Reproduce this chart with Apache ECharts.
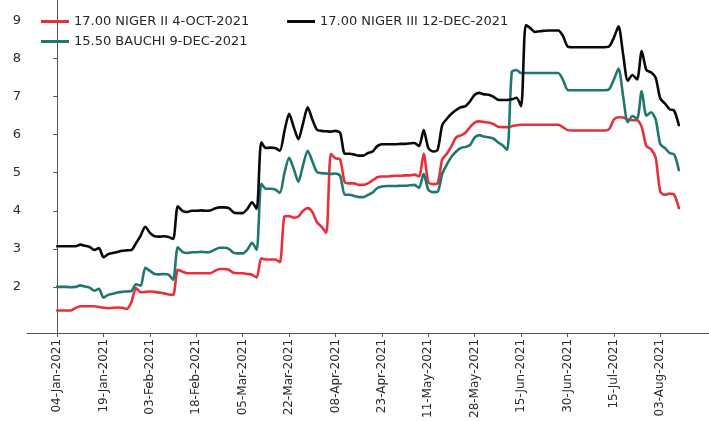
<!DOCTYPE html>
<html>
<head>
<meta charset="utf-8">
<script src="https://cdn.jsdelivr.net/npm/echarts@6/dist/echarts.min.js"></script>
<style>
  html, body { margin: 0; padding: 0; background: #fff; }
  #chart { width: 709px; height: 421px; }
</style>
</head>
<body>
<div id="chart"></div>
<script>
// Trading-day yields (%), one value per business day starting 04-Jan-2021
const nigerII = [
  1.38, 1.38, 1.38, 1.38, 1.45, 1.49, 1.49, 1.49, 1.49, 1.47,
  1.45, 1.44, 1.45, 1.46, 1.45, 1.42, 1.60, 1.97, 1.86, 1.87,
  1.88, 1.87, 1.85, 1.83, 1.80, 1.79, 2.45, 2.40, 2.36, 2.36,
  2.36, 2.36, 2.36, 2.36, 2.42, 2.47, 2.47, 2.45, 2.37, 2.36,
  2.36, 2.34, 2.32, 2.25, 2.75, 2.72, 2.72, 2.72, 2.65, 3.85,
  3.86, 3.82, 3.85, 4.00, 4.07, 3.97, 3.70, 3.58, 3.42, 5.50,
  5.38, 5.35, 4.75, 4.72, 4.72, 4.68, 4.68, 4.72, 4.80, 4.88,
  4.90, 4.90, 4.91, 4.92, 4.92, 4.93, 4.93, 4.95, 4.90, 5.50,
  4.75, 4.70, 4.72, 5.35, 5.50, 5.70, 5.93, 5.98, 6.05, 6.20,
  6.32, 6.35, 6.33, 6.32, 6.28, 6.21, 6.20, 6.20, 6.22, 6.25,
  6.26, 6.26, 6.26, 6.26, 6.26, 6.26, 6.26, 6.26, 6.26, 6.20,
  6.12, 6.11, 6.11, 6.11, 6.11, 6.11, 6.11, 6.11, 6.11, 6.15,
  6.40, 6.46, 6.45, 6.40, 6.38, 6.38, 6.20, 5.70, 5.62, 5.40,
  4.50, 4.42, 4.45, 4.42, 4.07
];

const bauchi = [
  2.00, 2.00, 2.00, 1.99, 2.00, 2.04, 2.01, 1.98, 1.90, 1.95,
  1.72, 1.79, 1.82, 1.85, 1.87, 1.88, 1.89, 2.07, 2.03, 2.50,
  2.42, 2.34, 2.33, 2.34, 2.32, 2.19, 3.04, 2.92, 2.89, 2.91,
  2.91, 2.92, 2.91, 2.92, 2.98, 3.03, 3.03, 3.00, 2.90, 2.88,
  2.88, 2.98, 3.16, 2.97, 4.71, 4.58, 4.58, 4.56, 4.47, 5.00,
  5.39, 5.10, 4.76, 5.20, 5.58, 5.30, 5.02, 4.99, 4.98, 4.97,
  4.98, 4.92, 4.42, 4.42, 4.39, 4.36, 4.36, 4.42, 4.48, 4.60,
  4.64, 4.65, 4.65, 4.65, 4.66, 4.66, 4.67, 4.68, 4.60, 4.97,
  4.55, 4.49, 4.50, 4.97, 5.22, 5.42, 5.56, 5.65, 5.68, 5.73,
  5.93, 5.99, 5.95, 5.93, 5.90, 5.80, 5.72, 5.60, 7.65, 7.70,
  7.62, 7.62, 7.62, 7.62, 7.62, 7.62, 7.62, 7.62, 7.62, 7.45,
  7.18, 7.17, 7.17, 7.17, 7.17, 7.17, 7.17, 7.17, 7.17, 7.20,
  7.45, 7.74, 7.00, 6.33, 6.49, 6.42, 7.15, 6.50, 6.59, 6.40,
  5.75, 5.65, 5.52, 5.48, 5.07
];

const nigerIII = [
  3.07, 3.07, 3.07, 3.07, 3.07, 3.11, 3.08, 3.05, 2.97, 3.02,
  2.78, 2.86, 2.89, 2.92, 2.95, 2.96, 2.97, 3.15, 3.35, 3.58,
  3.42, 3.33, 3.32, 3.33, 3.31, 3.26, 4.12, 4.00, 3.97, 4.00,
  4.00, 4.01, 4.00, 4.01, 4.06, 4.09, 4.09, 4.07, 3.96, 3.94,
  3.94, 4.05, 4.22, 4.05, 5.80, 5.65, 5.66, 5.65, 5.58, 6.10,
  6.55, 6.20, 5.88, 6.30, 6.72, 6.40, 6.13, 6.10, 6.09, 6.08,
  6.10, 6.05, 5.50, 5.50, 5.48, 5.45, 5.45, 5.52, 5.56, 5.70,
  5.75, 5.75, 5.75, 5.75, 5.76, 5.76, 5.77, 5.78, 5.70, 6.12,
  5.65, 5.56, 5.60, 6.25, 6.42, 6.55, 6.65, 6.72, 6.75, 6.88,
  7.05, 7.10, 7.06, 7.05, 7.00, 6.92, 6.91, 6.91, 6.93, 6.97,
  6.75, 8.88, 8.80, 8.70, 8.72, 8.73, 8.74, 8.74, 8.74, 8.60,
  8.32, 8.30, 8.30, 8.30, 8.30, 8.30, 8.30, 8.30, 8.30, 8.32,
  8.55, 8.85, 8.10, 7.42, 7.57, 7.45, 8.20, 7.70, 7.64, 7.50,
  6.95, 6.82, 6.67, 6.63, 6.25
];

// Every tenth trading day carries a date label
const tickLabels = [
  '04-Jan-2021', '19-Jan-2021', '03-Feb-2021', '18-Feb-2021', '05-Mar-2021',
  '22-Mar-2021', '08-Apr-2021', '23-Apr-2021', '11-May-2021', '28-May-2021',
  '15-Jun-2021', '30-Jun-2021', '15-Jul-2021', '03-Aug-2021'
];
const tickStep = 10;
const yTicks = [2, 3, 4, 5, 6, 7, 8, 9];

const seriesNames = ['17.00 NIGER II 4-OCT-2021', '15.50 BAUCHI 9-DEC-2021', '17.00 NIGER III 12-DEC-2021'];
const seriesValues = [nigerII, bauchi, nigerIII];
const seriesColors = ['#e8303c', '#1f7770', '#0a0a0a'];

const xTickValues = tickLabels.map((_, k) => k * tickStep);
const FONT = 'DejaVu Sans';

const chart = echarts.init(document.getElementById('chart'), null, { renderer: 'canvas' });

const legendText = { fontFamily: FONT, fontSize: 13, color: '#262626' };

chart.setOption({
  animation: false,
  backgroundColor: '#fff',
  grid: { left: 27, right: -2, top: -5, bottom: 85, containLabel: false },
  legend: [
    {
      data: [seriesNames[0], seriesNames[1]],
      orient: 'vertical', left: 36, top: 10, itemGap: 7,
      itemWidth: 28, itemHeight: 3, icon: 'rect', textStyle: legendText
    },
    {
      data: [seriesNames[2]],
      orient: 'vertical', left: 282, top: 10,
      itemWidth: 28, itemHeight: 3, icon: 'rect', textStyle: legendText
    }
  ],
  xAxis: {
    type: 'value', min: -6.5, max: 140.5,
    splitLine: { show: false },
    axisLine: { show: true, lineStyle: { color: '#555', width: 1 } },
    axisTick: { show: true, length: 4, customValues: xTickValues, lineStyle: { color: '#555' } },
    axisLabel: {
      customValues: xTickValues, rotate: 90, margin: 6,
      fontFamily: FONT, fontSize: 12, color: '#2b2b2b',
      formatter: v => tickLabels[Math.round(v / tickStep)] || ''
    }
  },
  yAxis: {
    type: 'value', min: 0.79, max: 9.54,
    splitLine: { show: false },
    axisLine: { show: true, lineStyle: { color: '#555', width: 1 } },
    axisTick: { show: true, length: 4, customValues: yTicks, lineStyle: { color: '#555' } },
    axisLabel: {
      customValues: yTicks, margin: 6,
      fontFamily: FONT, fontSize: 13, color: '#2b2b2b',
      formatter: v => String(v)
    }
  },
  series: seriesValues.map((vals, s) => ({
    name: seriesNames[s],
    type: 'line',
    data: vals.map((v, i) => [i, v]),
    showSymbol: false,
    smooth: 0.25,
    color: seriesColors[s],
    lineStyle: { width: 2.6, color: seriesColors[s], join: 'round', cap: 'round' },
    z: s === 2 ? 3 : 2
  }))
});
</script>
</body>
</html>
